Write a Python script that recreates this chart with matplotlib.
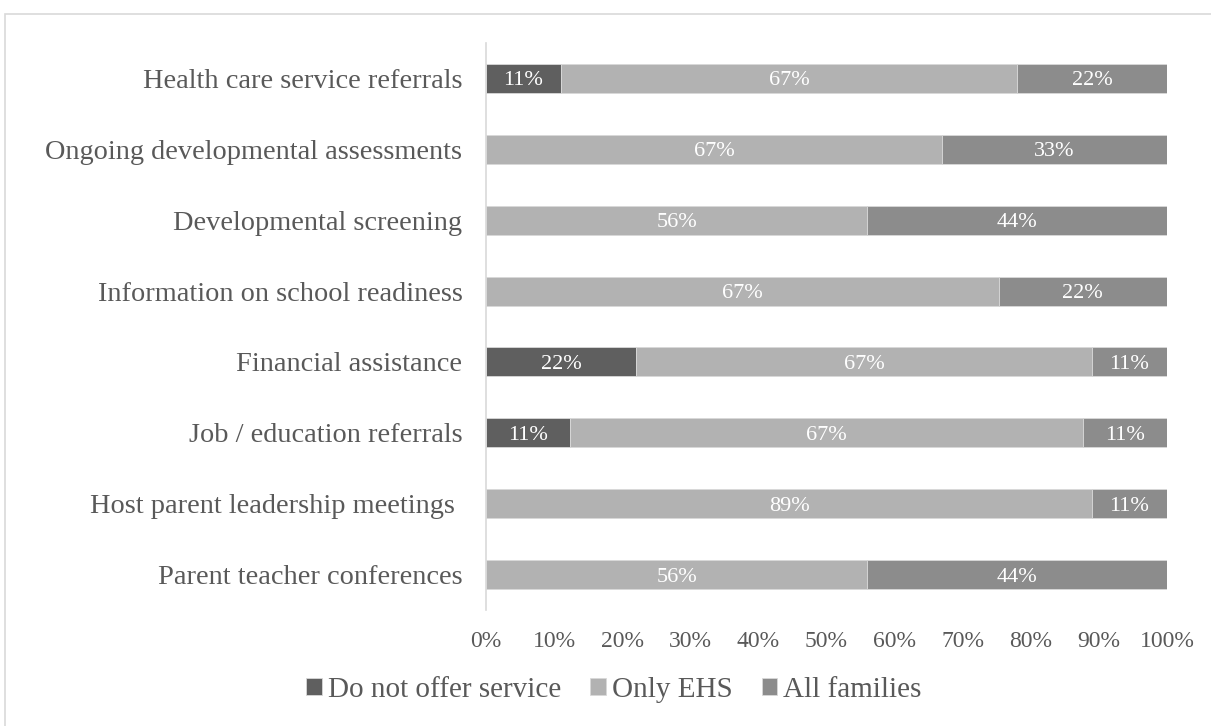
import numpy as np
import matplotlib.pyplot as plt
from matplotlib.patches import Rectangle

plt.rcParams['font.family'] = ['Liberation Serif', 'DejaVu Serif']

categories = [
    'Parent teacher conferences',
    'Host parent leadership meetings ',
    'Job / education referrals',
    'Financial assistance',
    'Information on school readiness',
    'Developmental screening',
    'Ongoing developmental assessments',
    'Health care service referrals',
]
do_not_offer = [0, 0, 11, 22, 0, 0, 0, 11]
only_ehs = [56, 89, 67, 67, 67, 56, 67, 67]
all_families = [44, 11, 11, 11, 22, 44, 33, 22]

series = [
    ('Do not offer service', do_not_offer, '#5f5f5f'),
    ('Only EHS', only_ehs, '#b2b2b2'),
    ('All families', all_families, '#8c8c8c'),
]

totals = np.array(do_not_offer) + np.array(only_ehs) + np.array(all_families)

fig = plt.figure(figsize=(12.11, 7.26), dpi=100)
ax = fig.add_axes([486 / 1211, 1 - 610 / 726, (1167 - 486) / 1211, (610 - 43) / 726])

y = np.arange(len(categories))
left = np.zeros(len(categories))
for name, vals, color in series:
    vals = np.array(vals, dtype=float)
    share = vals / totals
    ax.barh(y, share, left=left, height=0.41, color=color, label=name,
            edgecolor='#d9d9d9', linewidth=0.6)
    for yi, v, l, s in zip(y, vals, left, share):
        if v > 0:
            ax.text(l + s / 2, yi, f'{int(v)}%', ha='center', va='center_baseline',
                    color='white', fontsize=16)
    left += share

ax.set_xlim(0, 1)
ax.set_ylim(-0.5, len(categories) - 0.5)
ax.set_yticks(y)
ax.set_yticklabels(categories, fontsize=20.4, color='#595959')
ax.set_xticks(np.linspace(0, 1, 11))
ax.set_xticklabels([f'{i}%' for i in range(0, 101, 10)], fontsize=17, color='#595959')
ax.tick_params(length=0)
ax.tick_params(axis='x', pad=15)
ax.tick_params(axis='y', pad=17)
for side in ['top', 'right', 'bottom']:
    ax.spines[side].set_visible(False)
ax.spines['left'].set_color('#d9d9d9')
ax.spines['left'].set_linewidth(1.2)

leg = fig.legend(loc='center', bbox_to_anchor=(614 / 1211, 1 - 690 / 726), ncol=3,
                 frameon=False, fontsize=21, handlelength=0.52, handleheight=0.52,
                 handletextpad=0.22, columnspacing=1.0)
for t in leg.get_texts():
    t.set_color('#595959')

# light outer frame around the chart area
fig.patches.append(Rectangle((5 / 1211, -0.05), 1.1, 1 - 14 / 726 + 0.05,
                             transform=fig.transFigure, fill=False,
                             edgecolor='#d9d9d9', linewidth=1.2))

fig.savefig('out.png', dpi=100)
